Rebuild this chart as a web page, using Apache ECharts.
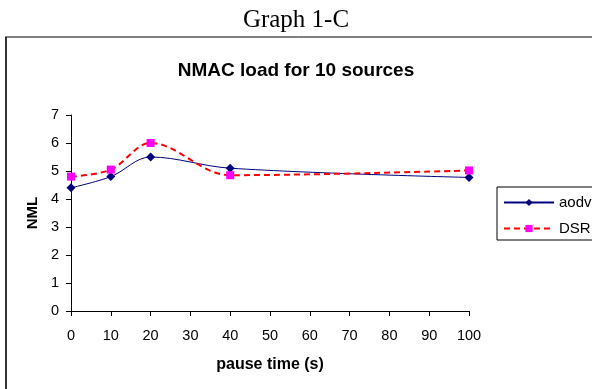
<!DOCTYPE html>
<html><head><meta charset="utf-8">
<script src="https://cdn.jsdelivr.net/npm/echarts@6/dist/echarts.min.js"></script>
<style>html,body{margin:0;padding:0;background:#fff}#c{width:592px;height:389px}</style>
</head><body><div id="c"></div>
<script>
const pauseTimes = [0, 10, 20, 40, 100];
const aodvValues = [4.4, 4.8, 5.5, 5.1, 4.77];
const dsrValues = [4.8, 5.05, 6.0, 4.85, 5.02];
const xTicks = [0, 10, 20, 30, 40, 50, 60, 70, 80, 90, 100];
const yTicks = [0, 1, 2, 3, 4, 5, 6, 7];

const chart = echarts.init(document.getElementById('c'));
const axisFont = {fontFamily: 'Liberation Sans, Arial', fontSize: 14.5, color: '#000'};
chart.setOption({
  animation: false,
  backgroundColor: '#fff',
  title: [
    {text: 'Graph 1-C', left: 'center', top: 3, textStyle: {fontFamily: 'Liberation Serif', fontWeight: 'normal', fontSize: 25, color: '#000'}},
    {text: 'NMAC load for 10 sources', left: 'center', top: 56, textStyle: {fontFamily: 'Liberation Sans', fontWeight: 'bold', fontSize: 19, color: '#000'}}
  ],
  graphic: [
    {type: 'line', shape: {x1: 5, y1: 37, x2: 592, y2: 37}, style: {stroke: '#000', lineWidth: 1}},
    {type: 'line', shape: {x1: 6, y1: 37, x2: 6, y2: 389}, style: {stroke: '#333', lineWidth: 2}}
  ],
  legend: {
    orient: 'vertical', left: 497, top: 187,
    itemWidth: 50, itemHeight: 9, itemGap: 11,
    padding: [8, 10, 4, 6],
    borderColor: '#000', borderWidth: 1,
    textStyle: {fontFamily: 'Liberation Sans', fontSize: 15, color: '#000'},
    data: ['aodv', 'DSR']
  },
  grid: {left: 71, right: 123, top: 115, bottom: 78},
  xAxis: {
    type: 'value', min: 0, max: 100, interval: 10,
    name: 'pause time (s)', nameLocation: 'middle', nameGap: 46,
    nameTextStyle: {fontFamily: 'Liberation Sans', fontWeight: 'bold', fontSize: 16, color: '#000'},
    axisLine: {lineStyle: {color: '#000'}},
    axisTick: {lineStyle: {color: '#000'}, length: 5},
    axisLabel: Object.assign({margin: 17, formatter: v => xTicks.includes(v) ? String(v) : ''}, axisFont),
    splitLine: {show: false}
  },
  yAxis: {
    type: 'value', min: 0, max: 7, interval: 1,
    name: 'NML', nameLocation: 'middle', nameGap: 30, nameRotate: 90,
    nameTextStyle: {fontFamily: 'Liberation Sans', fontWeight: 'bold', fontSize: 15, color: '#000'},
    axisLine: {show: true, lineStyle: {color: '#000'}},
    axisTick: {show: true, lineStyle: {color: '#000'}, length: 5},
    axisLabel: Object.assign({margin: 12, formatter: v => yTicks.includes(v) ? String(v) : ''}, axisFont),
    splitLine: {show: false}
  },
  series: [
    {
      name: 'aodv', type: 'line', smooth: 0.35,
      data: pauseTimes.map((x, i) => [x, aodvValues[i]]),
      symbol: 'diamond', symbolSize: 9,
      lineStyle: {color: '#000080', width: 1},
      itemStyle: {color: '#000080'}
    },
    {
      name: 'DSR', type: 'line', smooth: 0.35,
      data: pauseTimes.map((x, i) => [x, dsrValues[i]]),
      symbol: 'rect', symbolSize: 8,
      lineStyle: {color: '#FF0000', width: 2, type: [6, 4]},
      itemStyle: {color: '#FF00FF'}
    }
  ]
});
</script></body></html>
